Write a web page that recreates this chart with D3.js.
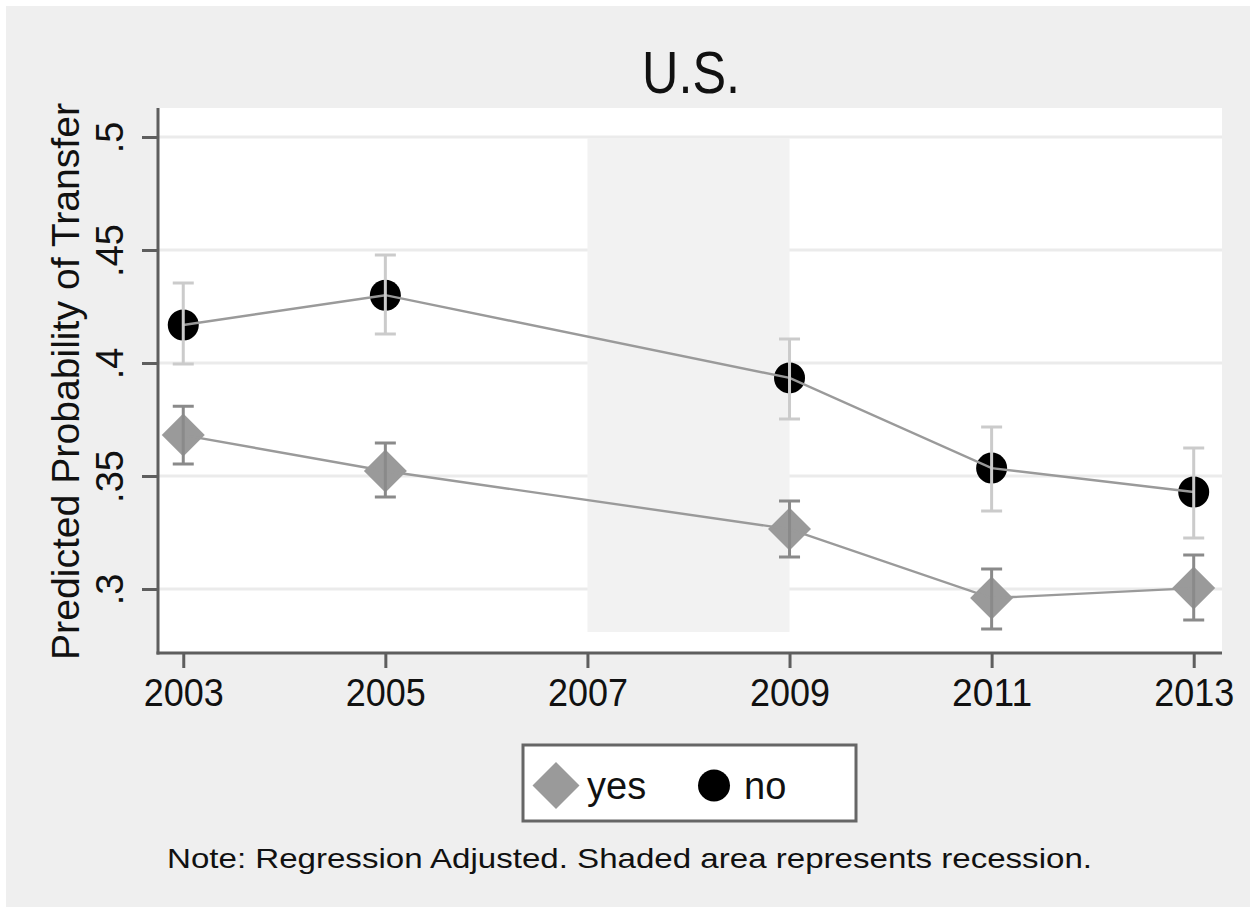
<!DOCTYPE html>
<html><head><meta charset="utf-8">
<script src="https://cdn.jsdelivr.net/npm/d3@7"></script>
<style>body{margin:0;background:#fff}svg{display:block}text{font-family:"Liberation Sans",Arial,sans-serif}</style>
</head><body><svg id="c" width="1253" height="911"></svg>
<script>
const years = [2003, 2005, 2009, 2011, 2013];
const xTicks = [2003, 2005, 2007, 2009, 2011, 2013];
const yTicks = [0.3, 0.35, 0.4, 0.45, 0.5];
const yesVal = [0.3681, 0.3522, 0.3265, 0.2960, 0.3004];
const yesLo  = [0.3553, 0.3407, 0.3142, 0.2823, 0.2863];
const yesHi  = [0.3809, 0.3646, 0.3389, 0.3088, 0.3150];
const noVal  = [0.4168, 0.4300, 0.3934, 0.3535, 0.3429];
const noLo   = [0.3996, 0.4128, 0.3752, 0.3345, 0.3226];
const noHi   = [0.4354, 0.4478, 0.4106, 0.3717, 0.3624];
const recession = [2007, 2009];
const recessionY = [0.281, 0.4995];
const title = "U.S.";
const yTitle = "Predicted Probability of Transfer";
const note = "Note: Regression Adjusted. Shaded area represents recession.";
const legendLabels = ["yes", "no"];

const svg = d3.select("#c");
const L = 158, R = 1222, T = 108, B = 653;
const x = d3.scaleLinear().domain([2002.75, 2013.28]).range([L, R]);
const y = d3.scaleLinear().domain([0.27168, 0.51283]).range([B, T]);
const ink = "#111";

svg.append("rect").attr("x", 6).attr("y", 6).attr("width", 1244).attr("height", 901).attr("fill", "#efefef");
svg.append("rect").attr("x", L).attr("y", T).attr("width", R - L).attr("height", B - T).attr("fill", "#fff");

// gridlines
svg.append("g").selectAll("line").data(yTicks).join("line")
  .attr("x1", L).attr("x2", R).attr("y1", d => y(d)).attr("y2", d => y(d))
  .attr("stroke", "#ebebeb").attr("stroke-width", 3);

// recession shading
svg.append("rect").attr("x", x(recession[0])).attr("width", x(recession[1]) - x(recession[0]))
  .attr("y", y(recessionY[1])).attr("height", y(recessionY[0]) - y(recessionY[1]))
  .attr("fill", "#f2f2f2");

const yesData = years.map((yr, i) => ({yr, v: yesVal[i], lo: yesLo[i], hi: yesHi[i]}));
const noData = years.map((yr, i) => ({yr, v: noVal[i], lo: noLo[i], hi: noHi[i]}));

const diamond = (cx, cy, s) => `M${cx},${cy - s}L${cx + s},${cy}L${cx},${cy + s}L${cx - s},${cy}Z`;

// markers
svg.append("g").selectAll("path").data(yesData).join("path")
  .attr("d", d => diamond(x(d.yr), y(d.v), 21.5)).attr("fill", "#9a9a9a");
svg.append("g").selectAll("circle").data(noData).join("circle")
  .attr("cx", d => x(d.yr)).attr("cy", d => y(d.v)).attr("r", 15.5).attr("fill", "#000");

// connecting lines
const line = d3.line().x(d => x(d.yr)).y(d => y(d.v));
[yesData, noData].forEach(data => {
  svg.append("path").datum(data).attr("d", line).attr("fill", "none")
    .attr("stroke", "#9a9a9a").attr("stroke-width", 2.4);
});

// error bars
function ci(data, color) {
  const g = svg.append("g").attr("stroke", color).attr("stroke-width", 3).attr("fill", "none");
  g.selectAll("path").data(data).join("path")
    .attr("d", d => {
      const cx = x(d.yr), a = y(d.hi), b = y(d.lo), w = 10.5;
      return `M${cx},${a}V${b}M${cx - w},${a}H${cx + w}M${cx - w},${b}H${cx + w}`;
    });
}
ci(noData, "#cbcbcb");
ci(yesData, "#8a8a8a");

// axes
const axisColor = "#5e5e5e";
const yAxis = svg.append("g").attr("transform", `translate(${L},0)`)
  .call(d3.axisLeft(y).tickValues(yTicks).tickSize(16).tickPadding(0)
    .tickFormat(d => d3.format(".2~f")(d).replace(/^0/, "")));
yAxis.select(".domain").remove();
yAxis.selectAll("line").attr("stroke", axisColor).attr("stroke-width", 3);
yAxis.selectAll("text").attr("x", null).attr("dy", null)
  .attr("transform", "translate(-35,0) rotate(-90)")
  .attr("text-anchor", "middle").attr("font-size", 38).attr("fill", ink);

const xAxis = svg.append("g").attr("transform", `translate(0,${B})`)
  .call(d3.axisBottom(x).tickValues(xTicks).tickSize(15).tickPadding(6).tickFormat(d3.format("d")));
xAxis.select(".domain").remove();
xAxis.selectAll("line").attr("stroke", axisColor).attr("stroke-width", 3);
xAxis.selectAll("text").attr("font-size", 38).attr("fill", ink).attr("y", 53).attr("dy", null)
  .attr("textLength", 80).attr("lengthAdjust", "spacingAndGlyphs");

svg.append("line").attr("x1", L).attr("x2", L).attr("y1", T).attr("y2", B + 1.5)
  .attr("stroke", axisColor).attr("stroke-width", 3);
svg.append("line").attr("x1", L - 1.5).attr("x2", R).attr("y1", B).attr("y2", B)
  .attr("stroke", axisColor).attr("stroke-width", 3);

// titles
svg.append("text").attr("x", 691).attr("y", 93).attr("text-anchor", "middle")
  .attr("font-size", 60).attr("fill", ink)
  .attr("textLength", 98).attr("lengthAdjust", "spacingAndGlyphs").text(title);
svg.append("text").attr("transform", `translate(79,${(103 + 660) / 2}) rotate(-90)`)
  .attr("text-anchor", "middle").attr("font-size", 38).attr("fill", ink)
  .attr("textLength", 557).attr("lengthAdjust", "spacingAndGlyphs").text(yTitle);

// legend
const lg = svg.append("g");
lg.append("rect").attr("x", 523).attr("y", 745).attr("width", 333).attr("height", 76)
  .attr("fill", "#fff").attr("stroke", "#666").attr("stroke-width", 3);
lg.append("path").attr("d", diamond(556, 785.5, 23.5)).attr("fill", "#9a9a9a");
lg.append("text").attr("x", 587).attr("y", 799).attr("font-size", 38).attr("fill", ink).text(legendLabels[0]);
lg.append("circle").attr("cx", 714).attr("cy", 785.5).attr("r", 16).attr("fill", "#000");
lg.append("text").attr("x", 744).attr("y", 799).attr("font-size", 38).attr("fill", ink).text(legendLabels[1]);

svg.append("text").attr("x", 167).attr("y", 868)
  .attr("font-size", 28).attr("fill", ink)
  .attr("textLength", 925).attr("lengthAdjust", "spacingAndGlyphs").text(note);
</script></body></html>
